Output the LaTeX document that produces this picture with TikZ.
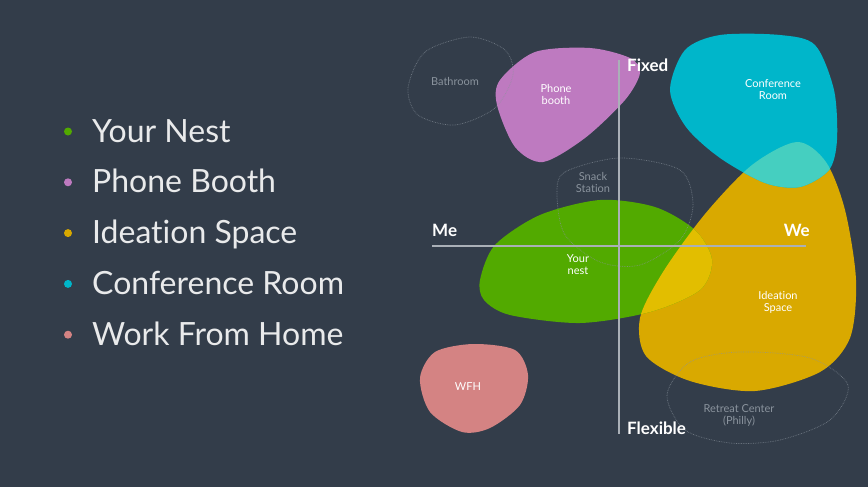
\documentclass[tikz,border=0pt]{standalone}
\usepackage{fontspec}
\setmainfont{Lato}[Ligatures=NoCommon]
\definecolor{bgslate}{HTML}{333D4A}
\definecolor{nestgreen}{HTML}{52AA00}
\definecolor{boothpurple}{HTML}{BE7AC0}
\definecolor{ideayellow}{HTML}{D9A900}
\definecolor{confcyan}{HTML}{00B6CA}
\definecolor{wfhpink}{HTML}{D48383}
\definecolor{tealmix}{HTML}{45CFC0}
\definecolor{goldmix}{HTML}{E2BE00}
\definecolor{ghostgray}{HTML}{8A939D}
\definecolor{axisgray}{HTML}{AAB0B7}
\definecolor{legendwhite}{HTML}{E9EAEB}
% blob outlines (px, y down)
\def\nestblob{plot[smooth cycle] coordinates {(480,280) (495,245) (540,215) (600,200) (655,207) (695,230) (712,260) (700,290) (650,312) (580,323) (510,315) (484,300)}}
\def\ideablob{plot[smooth cycle] coordinates {(797,142) (826,162) (845,210) (856,280) (850,338) (820,372) (755,391) (690,381) (646,356) (640,318) (663,272) (705,214) (752,165)}}
\def\confblob{plot[smooth cycle] coordinates {(670,90) (685,50) (720,35) (780,35) (815,45) (834,90) (837,140) (829,170) (800,187) (765,183) (720,158) (686,127)}}
\begin{document}
\begin{tikzpicture}[x=1pt,y=-1pt,
    blobtext/.style={text=white, font=\fontsize{11}{12}\selectfont, align=center},
    ghosttext/.style={text=ghostgray, font=\fontsize{11}{12}\selectfont, align=center},
    ghostline/.style={draw=ghostgray, densely dotted, line width=0.7pt, opacity=0.7},
    axislabel/.style={text=white, font=\fontsize{17}{20}\selectfont\bfseries, inner sep=0pt},
    legendtext/.style={text=legendwhite, font=\fontsize{32}{36}\selectfont, anchor=base west, inner sep=0pt}]
  \fill[bgslate] (0,0) rectangle (868,487);
  \useasboundingbox (0,0) rectangle (868,487);

  % legend
  \foreach \label/\col [count=\i] in {Your Nest/nestgreen, Phone Booth/boothpurple, Ideation Space/ideayellow, Conference Room/confcyan, Work From Home/wfhpink}{
    \fill[\col] (68,{142+50.8*(\i-1)-10.5}) circle (4);
    \node[legendtext] (leg\i) at (92,{142+50.8*(\i-1)}) {\label};
  }

  % coloured blobs
  \fill[ideayellow] \ideablob;
  \fill[confcyan] \confblob;
  \begin{scope}
    \clip \confblob;
    \fill[tealmix] \ideablob;
  \end{scope}
  \fill[nestgreen] \nestblob;
  \begin{scope}
    \clip \nestblob;
    \fill[goldmix] \ideablob;
  \end{scope}
  \fill[boothpurple] plot[smooth cycle] coordinates {(500,80) (535,52) (590,48) (630,58) (640,73) (625,100) (585,138) (543,162) (515,147) (497,105)};
  \fill[wfhpink] plot[smooth cycle] coordinates {(420,378) (435,352) (473,344) (515,350) (528,375) (520,405) (490,428) (462,432) (430,412)};

  % dotted places
  \draw[ghostline] plot[smooth cycle] coordinates {(408,88) (425,52) (470,37) (505,50) (513,75) (495,108) (455,125) (418,115)};
  \draw[ghostline] plot[smooth cycle] coordinates {(557,195) (565,172) (620,158) (680,170) (693,205) (680,240) (640,265) (600,262) (565,235)};
  \draw[ghostline] plot[smooth cycle] coordinates {(667,395) (690,362) (740,352) (810,358) (848,385) (830,420) (780,440) (730,443) (685,430)};

  % axes
  \coordinate (meend) at (432,246);
  \coordinate (weend) at (806,246);
  \coordinate (fixtop) at (619,60);
  \coordinate (flexbot) at (619,434);
  \draw[axisgray, line width=1.1pt] (meend) -- (weend);
  \draw[axisgray, line width=1.1pt] (fixtop) -- (flexbot);
  \node[axislabel, anchor=base west] (fixed) at (627,71) {Fixed};
  \node[axislabel, anchor=base west] (flexible) at (627,434) {Flexible};
  \node[axislabel, anchor=base west] (me) at (432,236) {Me};
  \node[axislabel, anchor=base east] (we) at (810,236) {We};

  % blob labels
  \node[ghosttext] (bathroom) at (455,81) {Bathroom};
  \node[blobtext] (booth) at (556,94) {Phone\\booth};
  \node[ghosttext] (snack) at (593,182) {Snack\\Station};
  \node[blobtext] (conf) at (773,90) {Conference\\Room};
  \node[blobtext] (nest) at (578,265) {Your\\nest};
  \node[blobtext] (idea) at (778,302) {Ideation\\Space};
  \node[blobtext] (wfh) at (468,387) {WFH};
  \node[ghosttext] (retreat) at (739,415) {Retreat Center\\(Philly)};
\end{tikzpicture}
\end{document}
